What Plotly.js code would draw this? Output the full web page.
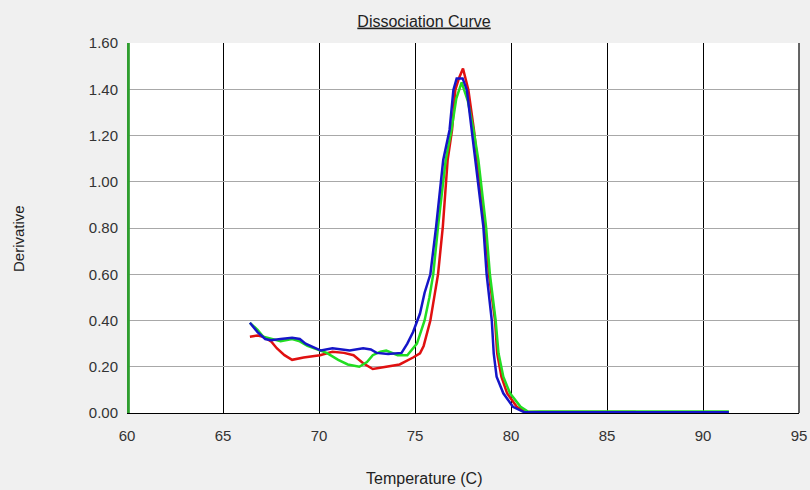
<!DOCTYPE html>
<html>
<head>
<meta charset="utf-8">
<script src="https://cdn.plot.ly/plotly-3.0.1.min.js"></script>
<style>html,body{margin:0;padding:0;background:#f0f0f0;}#chart{width:810px;height:490px;}</style>
</head>
<body>
<div id="chart"></div>
<script>
// Sample curves: temperature (C) vs derivative
const redX = [66.4, 66.8, 67.1, 67.5, 67.8, 68.2, 68.6, 69.2, 70.05, 70.7, 71.3, 71.8, 72.3, 72.8, 73.5, 74.2, 74.9, 75.26, 75.45, 75.8, 76.0, 76.2, 76.45, 76.7, 76.93, 77.1, 77.3, 77.5, 77.78, 78.07, 78.24, 78.45, 78.65, 78.85, 79.17, 79.28, 79.5, 79.8, 80.3, 80.8, 81.5, 86.5];
const redY = [0.33, 0.335, 0.33, 0.31, 0.28, 0.25, 0.23, 0.24, 0.25, 0.265, 0.26, 0.25, 0.215, 0.19, 0.20, 0.21, 0.24, 0.258, 0.29, 0.40, 0.50, 0.60, 0.806, 1.094, 1.224, 1.397, 1.45, 1.49, 1.397, 1.224, 1.094, 0.95, 0.806, 0.60, 0.40, 0.258, 0.157, 0.085, 0.027, 0.005, 0.004, 0.004];

const greenX = [66.4, 66.8, 67.1, 67.5, 68.0, 68.6, 69.0, 69.4, 69.9, 70.4, 71.0, 71.5, 72.1, 72.5, 72.8, 73.2, 73.5, 74.1, 74.6, 75.1, 75.5, 75.75, 75.95, 76.2, 76.6, 76.9, 77.15, 77.43, 77.75, 78.05, 78.3, 78.7, 78.9, 79.2, 79.35, 79.6, 79.95, 80.5, 80.9, 81.5, 91.35];
const greenY = [0.39, 0.36, 0.33, 0.32, 0.31, 0.32, 0.31, 0.29, 0.275, 0.26, 0.23, 0.21, 0.20, 0.22, 0.25, 0.265, 0.27, 0.25, 0.25, 0.30, 0.40, 0.50, 0.60, 0.806, 1.094, 1.224, 1.36, 1.43, 1.35, 1.224, 1.094, 0.806, 0.60, 0.40, 0.258, 0.157, 0.085, 0.027, 0.005, 0.007, 0.007];

const blueX = [66.4, 66.8, 67.2, 67.5, 68.0, 68.6, 69.0, 69.3, 69.7, 70.1, 70.7, 71.1, 71.6, 72.3, 72.7, 73.0, 73.6, 74.3, 74.6, 74.9, 75.26, 75.5, 75.8, 76.1, 76.47, 76.8, 77.0, 77.17, 77.48, 77.7, 77.95, 78.13, 78.35, 78.56, 78.73, 79.0, 79.1, 79.25, 79.6, 80.1, 80.7, 81.5, 85.0, 91.35];
const blueY = [0.39, 0.35, 0.32, 0.315, 0.32, 0.325, 0.32, 0.30, 0.285, 0.27, 0.28, 0.275, 0.27, 0.28, 0.275, 0.26, 0.255, 0.26, 0.30, 0.35, 0.43, 0.52, 0.60, 0.806, 1.094, 1.224, 1.397, 1.447, 1.447, 1.397, 1.224, 1.094, 0.95, 0.806, 0.60, 0.40, 0.258, 0.157, 0.085, 0.027, 0.003, 0.003, 0.003, 0.003];

// Marker line at the left edge of the scan
const markerX = [60.07, 60.07];
const markerY = [0, 1.6];

const xTicks = [60, 65, 70, 75, 80, 85, 90, 95];
const yTicks = [0, 0.2, 0.4, 0.6, 0.8, 1.0, 1.2, 1.4, 1.6];

const lineW = 2.5;
const traces = [
  {x: markerX, y: markerY, mode: 'lines', line: {color: '#2f9e2f', width: 3}, hoverinfo: 'skip'},
  {x: redX, y: redY, mode: 'lines', line: {color: '#e01010', width: lineW}},
  {x: greenX, y: greenY, mode: 'lines', line: {color: '#22dd22', width: lineW}},
  {x: blueX, y: blueY, mode: 'lines', line: {color: '#1515c8', width: lineW}}
];

const fam = 'Liberation Sans, Arial, sans-serif';
const tickFont = {family: fam, size: 15, color: '#333333'};

const layout = {
  width: 810, height: 490,
  paper_bgcolor: '#f0f0f0',
  plot_bgcolor: '#ffffff',
  showlegend: false,
  margin: {l: 127, r: 11, t: 43, b: 77},
  title: {
    text: '<u>Dissociation Curve</u>',
    font: {family: fam, size: 16, color: '#222222'},
    x: 0.442, xanchor: 'center', xref: 'paper',
    y: 1 - 21 / 490, yanchor: 'middle', yref: 'container'
  },
  xaxis: {
    range: [60, 95], tickvals: xTicks, ticktext: xTicks.map(String),
    showgrid: true, gridcolor: '#000000', gridwidth: 1,
    showline: true, linecolor: '#000000', linewidth: 1,
    zeroline: false, ticks: '', ticklabelstandoff: 9,
    tickfont: tickFont, fixedrange: true
  },
  yaxis: {
    range: [0, 1.6], tickvals: yTicks, ticktext: yTicks.map(v => v.toFixed(2)),
    showgrid: true, gridcolor: '#a8a8a8', gridwidth: 1,
    showline: false, zeroline: false, ticks: '', ticklabelstandoff: 8,
    tickfont: tickFont, fixedrange: true
  },
  annotations: [
    {text: 'Temperature (C)', xref: 'paper', yref: 'paper', x: 0.442, y: -(478 - 413) / 370,
     xanchor: 'center', yanchor: 'middle', showarrow: false, font: {family: fam, size: 16, color: '#222222'}},
    {text: 'Derivative', xref: 'paper', yref: 'paper', x: -(127 - 19) / 672, y: (413 - 238) / 370,
     xanchor: 'center', yanchor: 'middle', textangle: -90, showarrow: false, font: {family: fam, size: 15, color: '#222222'}}
  ],
  shapes: [
    {type: 'line', xref: 'paper', yref: 'paper', x0: 1, x1: 1, y0: 0, y1: 1, line: {color: '#333333', width: 1.5}}
  ]
};

Plotly.newPlot('chart', traces, layout, {staticPlot: true, displayModeBar: false});
</script>
</body>
</html>
